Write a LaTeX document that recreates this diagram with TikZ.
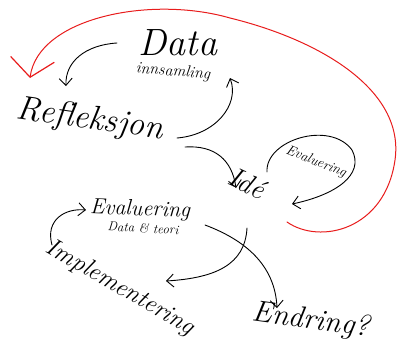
\documentclass[tikz,border=0pt]{standalone}
\usetikzlibrary{calc, positioning}
\usetikzlibrary{arrows.meta}

\begin{document}
\begin{tikzpicture}[x=1pt,y=-1pt,
  hand/.style={line width=0.9pt,line cap=round,-{Straight Barb[length=7pt,width=13pt,line width=0.9pt]}},
  word/.style={inner sep=1pt}]
\definecolor{loopred}{RGB}{232,28,28}
\useasboundingbox (0,0) rectangle (398,343);

\node[word,font=\fontsize{38}{40}\selectfont\itshape] (Data) at (178,43) {Data};
\node[word,font=\fontsize{16}{18}\selectfont\itshape,rotate=-5] (Innsamling) at (173,72) {innsamling};
\node[word,font=\fontsize{34}{36}\selectfont\itshape,rotate=-8] (Refleksjon) at (90,120) {Refleksjon};
\node[word,font=\fontsize{28}{30}\selectfont\itshape,rotate=-25] (Ide) at (247,183) {Idé};
\node[word,font=\fontsize{14}{16}\selectfont\itshape,rotate=-22] (EvalLoop) at (316,162) {Evaluering};
\node[word,font=\fontsize{22}{24}\selectfont\itshape,rotate=-2] (Evaluering) at (140,210) {Evaluering};
\node[word,font=\fontsize{13}{15}\selectfont\itshape,rotate=-3] (DataTeori) at (143,228) {Data \& teori};
\node[word,font=\fontsize{25}{27}\selectfont\itshape,rotate=-30] (Implementering) at (120,288) {Implementering};
\node[word,font=\fontsize{30}{32}\selectfont\itshape,rotate=-8] (Endring) at (311,321) {Endring?};

\coordinate (DataOut) at (117,43);
\coordinate (ReflIn) at (66,86);
\coordinate (ReflOut) at (177,138);
\coordinate (InnIn) at (230,78);
\coordinate (ReflOutB) at (185,147);
\coordinate (IdeIn) at (236,188);
\coordinate (LoopStart) at (267,172);
\coordinate (LoopEnd) at (292,204);
\coordinate (IdeOut) at (247,228);
\coordinate (ImplIn) at (166,281);
\coordinate (EvalOut) at (205,225);
\coordinate (EndrIn) at (277,308);
\coordinate (ImplOut) at (52,245);
\coordinate (EvalIn) at (86,210);
\coordinate (RedStart) at (287,222);
\coordinate (RedEnd) at (30,78);

\draw[hand] (DataOut) .. controls (85,45) and (65,62) .. (ReflIn);
\draw[hand] (ReflOut) .. controls (215,135) and (240,105) .. (InnIn);
\draw[hand] (ReflOutB) .. controls (215,145) and (232,160) .. (IdeIn);
\draw[hand] (LoopStart) .. controls (265,140) and (330,120) .. (352,150) .. controls (365,175) and (335,195) .. (LoopEnd);
\draw[hand] (IdeOut) .. controls (245,265) and (215,278) .. (ImplIn);
\draw[hand] (EvalOut) .. controls (245,240) and (275,265) .. (EndrIn);
\draw[hand] (ImplOut) .. controls (45,220) and (65,208) .. (EvalIn);
\draw[loopred,line width=1pt,line cap=round,-{Straight Barb[length=18pt,width=44pt,line width=1.2pt]}]
  (RedStart) .. controls (320,245) and (385,230) .. (395,160) .. controls (405,90) and (320,40) .. (230,18) .. controls (150,-5) and (38,18) .. (RedEnd);
\end{tikzpicture}
\end{document}
